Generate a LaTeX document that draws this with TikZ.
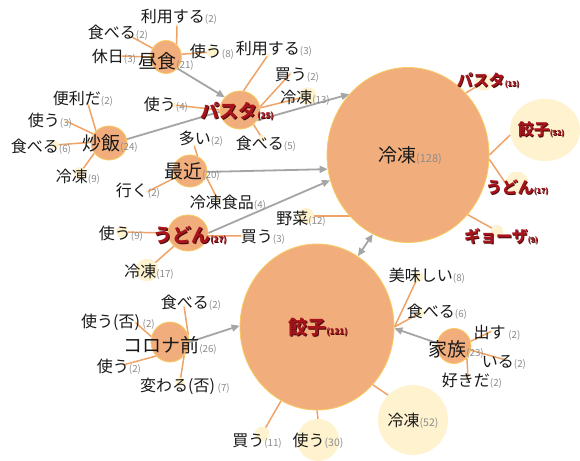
\documentclass[tikz,border=0pt]{standalone}
\usepackage{fontspec}
\newfontfamily\jp{Noto Sans CJK JP}
\usetikzlibrary{shapes.geometric,arrows.meta}
\definecolor{orfill}{HTML}{F2AD7D}
\definecolor{orbord}{HTML}{F8CB5E}
\definecolor{orline}{HTML}{EFA366}
\definecolor{palefill}{HTML}{FEF2CF}
\definecolor{grayarr}{HTML}{A5A5A5}
\definecolor{numgray}{HTML}{8C8C8C}
\definecolor{redtext}{HTML}{A8141C}
\definecolor{redshadow}{HTML}{4A0A0A}
\pgfdeclarelayer{bglayer}
\pgfdeclarelayer{linelayer}
\pgfsetlayers{bglayer,linelayer,main}
\newcommand\kn[1]{{\fontsize{9.8}{9.8}\selectfont\color{numgray}(#1)}}
\newcommand\knb[2]{{\fontsize{#2}{#2}\selectfont\color{numgray}(#1)}}
\newcommand\shd[1]{\makebox[0pt][l]{\hspace{0.8pt}\raisebox{-0.8pt}{\color{redshadow}#1}}{\color{redtext}#1}}
\newcommand\rn[2]{{\fontsize{#2}{#2}\selectfont\bfseries\shd{(#1)}}}
\tikzset{
  hub/.style 2 args={ellipse, fill=orfill, draw=orbord, line width=0.8pt, inner sep=0pt, minimum width={2*#1}, minimum height={2*#2}},
  pale/.style={ellipse, fill=palefill, inner sep=0pt, minimum width={2*#1}, minimum height={2*#1}},
  lf/.style={inner sep=0pt, text=black!90, font=\jp\fontsize{16}{16}\selectfont},
  hl/.style={inner sep=0pt, text=black!90, font=\jp\fontsize{19}{19}\selectfont},
  rl/.style={inner sep=0pt, font=\jp\bfseries\fontsize{16}{16}\selectfont},
  rh/.style={inner sep=0pt, font=\jp\bfseries\fontsize{19}{19}\selectfont},
  ol/.style={draw=orline, line width=1.5pt},
  ga/.style={draw=grayarr, line width=1.8pt, -{Triangle[length=8pt,width=7pt]}},
}
\begin{document}
\begin{tikzpicture}[x=1pt,y=-1pt]
\begin{pgfonlayer}{bglayer}
\fill[white] (0,0) rectangle (580,460);
\end{pgfonlayer}
\useasboundingbox (0,0) rectangle (580,460);

% pale leaf circles
\node[pale=1.3] (dA1) at (177,25) {};
\node[pale=1.3] (dA2) at (130,36) {};
\node[pale=2] (dA3) at (120,56) {};
\node[pale=5.4] (dA4) at (212,52) {};
\node[pale=2] (dB1) at (268,55) {};
\node[pale=1.3] (dB2) at (291,73) {};
\node[pale=8.7] (dB3) at (308,96) {};
\node[pale=3.4] (dB4) at (262,138) {};
\node[pale=2.7] (dB5) at (174,105) {};
\node[pale=1.3] (dC1) at (88,104) {};
\node[pale=2] (dC2) at (66,121) {};
\node[pale=4] (dC3) at (55,145) {};
\node[pale=6] (dC4) at (80,173) {};
\node[pale=1.3] (dD1) at (194,145) {};
\node[pale=1.3] (dD2) at (147,192) {};
\node[pale=2.7] (dD3) at (218,200) {};
\node[pale=6] (dE1) at (122,232) {};
\node[pale=11.4] (dE2) at (147,270) {};
\node[pale=2] (dE3) at (243,236) {};
\node[pale=8] (dF1) at (306,216) {};
\node[pale=8.7] (dF2) at (484,82) {};
\node[pale=33, minimum width=70, minimum height=62] (cG52) at (545,130) {};
\node[pale=11.4] (dF4) at (517,183) {};
\node[pale=6] (dF5) at (497,231) {};
\node[pale=5.4] (dH1) at (418,277) {};
\node[pale=4] (dH2) at (420,313) {};
\node[pale=35] (cR52) at (413,420) {};
\node[pale=7.4] (dH4) at (262,434) {};
\node[pale=21] (cU30) at (318,440) {};
\node[pale=1.3] (dK1) at (184,306) {};
\node[pale=1.3] (dK2) at (135,322) {};
\node[pale=1.3] (dK3) at (123,365) {};
\node[pale=4.7] (dK4) at (180,382) {};
\node[pale=1.3] (dM1) at (492,331) {};
\node[pale=1.3] (dM2) at (506,360) {};
\node[pale=1.3] (dM3) at (468,378) {};

% hub circles
\node[hub={15.5}{16.5}] (cLunch) at (166,57) {};
\node[hub={20}{19}] (cPasta) at (240,110) {};
\node[hub={18}{17}] (cFried) at (109,143) {};
\node[hub={17}{16}] (cRecent) at (190,171) {};
\node[hub={20}{18}] (cUdon) at (188,233) {};
\node[hub={19}{20}] (cCorona) at (170,342) {};
\node[hub={17}{17.5}] (cFamily) at (454,346) {};
\node[hub={81}{87.5}] (cFrozen) at (408,155) {};
\node[hub={77}{83}] (cGyoza) at (317,327) {};

% hub labels
\node[hl] (tLunch) at (166,61) {昼食\kn{21}};
\node[rh] (tPasta) at (237,112) {\shd{パスタ}\rn{25}{8}};
\node[hl] (tFried) at (110,143) {炒飯\kn{24}};
\node[hl] (tRecent) at (192,172) {最近\kn{20}};
\node[rh] (tUdon) at (190,236) {\shd{うどん}\rn{27}{8}};
\node[hl] (tCorona) at (170,345) {コロナ前\kn{26}};
\node[hl] (tFamily) at (456,349) {家族\kn{23}};
\node[hl] (tFrozen) at (410,156) {冷凍\knb{128}{11}};
\node[rh] (tGyoza) at (318,328) {\shd{餃子}\rn{121}{8}};
\node[lf] (tR52) at (413,421) {冷凍\knb{52}{10.5}};
\node[rl] (tG52) at (541,130) {\shd{餃子}\rn{52}{7}};
\node[lf] (tU30) at (318,441) {使う\knb{30}{10.5}};

% leaf labels
\node[lf] (lA1) at (179,17) {利用する\kn{2}};
\node[lf] (lA2) at (118,33) {食べる\kn{2}};
\node[lf] (lA3) at (114,57) {休日\kn{3}};
\node[lf] (lA4) at (212,52) {使う\kn{8}};
\node[lf] (lB1) at (274,49) {利用する\kn{3}};
\node[lf] (lB2) at (297,75) {買う\kn{2}};
\node[lf] (lB3) at (305,98) {冷凍\kn{13}};
\node[lf] (lB4) at (266,144) {食べる\kn{5}};
\node[lf] (lB5) at (166,105) {使う\kn{4}};
\node[lf] (lC1) at (83,99) {便利だ\kn{2}};
\node[lf] (lC2) at (50,121) {使う\kn{3}};
\node[lf] (lC3) at (41,147) {食べる\kn{6}};
\node[lf] (lC4) at (78,177) {冷凍\kn{9}};
\node[lf] (lD1) at (201,139) {多い\kn{2}};
\node[lf] (lD2) at (138,191) {行く\kn{2}};
\node[lf] (lD3) at (228,203) {冷凍食品\kn{4}};
\node[lf] (lE1) at (121,234) {使う\kn{9}};
\node[lf] (lE2) at (149,272) {冷凍\kn{17}};
\node[lf] (lE3) at (263,237) {買う\kn{3}};
\node[lf] (lF1) at (301,219) {野菜\kn{12}};
\node[rl] (lF2) at (488,81) {\shd{パスタ}\rn{13}{7}};
\node[rl] (lF4) at (517,188) {\shd{うどん}\rn{17}{7}};
\node[rl] (lF5) at (501,237) {\shd{ギョーザ}\rn{9}{7}};
\node[lf] (lH1) at (427,276) {美味しい\kn{8}};
\node[lf] (lH2) at (437,312) {食べる\kn{6}};
\node[lf] (lH4) at (257,441) {買う\kn{11}};
\node[lf] (lK1) at (191,303) {食べる\kn{2}};
\node[lf] (lK2) at (118,322) {使う(否)\,\kn{2}};
\node[lf] (lK3) at (119,367) {使う\kn{2}};
\node[lf] (lK4) at (185,386) {変わる(否)\,\kn{7}};
\node[lf] (lM1) at (497,333) {出す\,\kn{2}};
\node[lf] (lM2) at (504,362) {いる\kn{2}};
\node[lf] (lM3) at (472,381) {好きだ\kn{2}};

\begin{pgfonlayer}{linelayer}
% orange co-occurrence lines
\draw[ol] (cLunch.50) -- (dA1.center);
\draw[ol] (cLunch.147) -- (dA2.center);
\draw[ol] (cLunch.180) -- (dA3.center);
\draw[ol] (cLunch.10) -- (dA4.center);
\draw[ol] (cPasta.80) -- (dB1.center);
\draw[ol] (cPasta.9) -- (dB2.center);
\draw[ol] (cPasta.6) -- (dB3.center);
\draw[ol] (cPasta.-47) -- (dB4.center);
\draw[ol] (cPasta.180) -- (dB5.center);
\draw[ol] (cFried.137) -- (dC1.center);
\draw[ol] (cFried.150) -- (dC2.center);
\draw[ol] (cFried.178) -- (dC3.center);
\draw[ol] (cFried.215) -- (dC4.center);
\draw[ol] (cRecent.63) -- (dD1.center);
\draw[ol] (cRecent.204) -- (dD2.center);
\draw[ol] (cRecent.-20) -- (dD3.center);
\draw[ol] (cUdon.180) -- (dE1.center);
\draw[ol] (cUdon.223) -- (dE2.center);
\draw[ol] (cUdon.-8) -- (dE3.center);
\draw[ol] (dF1.center) -- (dF1.center -| cFrozen.center);
\draw[ol] (cFrozen.47) -- (dF2.center);
\draw[ol] (cFrozen.east) -- (cG52.188);
\draw[ol] (cFrozen.-3) -- (dF4.west);
\draw[ol] (cFrozen.-45) -- (dF5.center);
\draw[ol] (cGyoza.east) -- (dH1.center);
\draw[ol] (cGyoza.east) -- (dH2.center);
\draw[ol] (cGyoza.-46) -- (cR52.135);
\draw[ol] (cGyoza.244) -- (dH4.center);
\draw[ol] (cGyoza.-90) -- (cU30.90);
\draw[ol] (cCorona.20) -- (dK1.center);
\draw[ol] (cCorona.164) -- (dK2.center);
\draw[ol] (cCorona.225) -- (dK3.center);
\draw[ol] (cCorona.-45) -- (dK4.center);
\draw[ol] (cFamily.16) -- (dM1.center);
\draw[ol] (cFamily.-14) -- (dM2.center);
\draw[ol] (cFamily.-43) -- (dM3.center);
% gray arrows
\draw[ga] (cLunch.-45) -- (cPasta.140);
\draw[draw=grayarr, line width=1.8pt] (cFried.12) -- (cPasta.185);
\draw[ga] (cPasta.-31) -- (cFrozen.134);
\draw[ga] (cRecent.-3) -- (cFrozen.190);
\draw[ga] (cUdon.east) -- (cFrozen.198);
\draw[ga, {Triangle[length=8pt,width=7pt]}-{Triangle[length=8pt,width=7pt]}] (cGyoza.60) -- (cFrozen.246);
\draw[ga] (cCorona.east) -- (cGyoza.179);
\draw[ga] (cFamily.170) -- (cGyoza.-1);
\end{pgfonlayer}
\end{tikzpicture}
\end{document}
